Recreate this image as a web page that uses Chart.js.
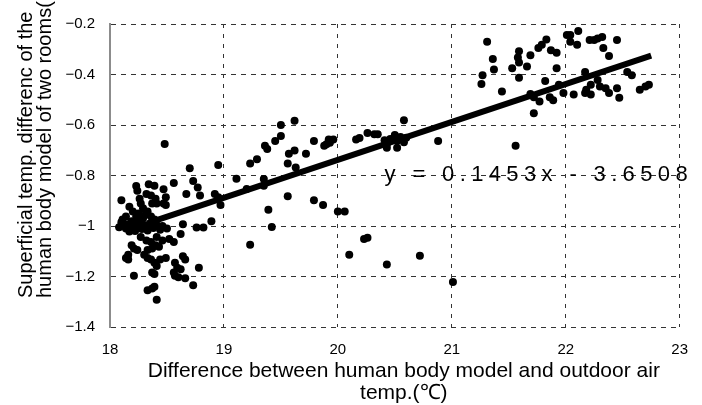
<!DOCTYPE html>
<html><head><meta charset="utf-8">
<script src="https://cdn.jsdelivr.net/npm/chart.js@4/dist/chart.umd.min.js"></script>
<style>html,body{margin:0;padding:0;background:#fff}#wrap{width:702px;height:405px}</style>
</head><body><div id="wrap"><canvas id="c" width="702" height="405"></canvas></div>
<script>
// x: Difference between human body model and outdoor air temp. (°C)
const tempDiff = [
18.23,18.24,18.34,18.39,18.48,18.56,18.70,18.73,18.77,18.79,18.47,18.49,18.67,18.32,18.36,18.40,18.41,18.37,18.47,18.49,
18.26,18.27,18.29,18.10,18.17,18.20,18.23,18.33,18.36,18.39,18.14,18.11,18.16,18.19,
18.12,18.14,18.18,18.21,18.24,18.26,18.28,18.31,18.33,18.35,18.38,18.41,18.44,18.46,18.50,18.22,18.17,18.29,18.31,18.25,18.20,18.10,18.08,
18.64,18.76,18.82,18.27,18.32,18.36,18.41,18.46,18.52,18.56,18.62,18.19,18.21,18.24,18.33,18.37,18.40,18.43,18.16,18.14,18.16,
18.30,18.33,18.36,18.39,18.41,18.44,18.49,18.64,18.66,18.57,18.59,18.62,18.78,18.37,18.39,18.21,18.56,18.57,18.60,18.66,18.73,
18.33,18.37,18.39,18.41,
18.95,18.92,18.95,18.97,18.89,19.11,19.23,19.29,19.36,19.38,19.45,19.50,19.50,19.62,19.56,19.63,19.62,19.57,19.72,19.79,19.88,
19.92,19.96,19.35,19.35,19.20,19.56,19.79,19.87,19.39,19.42,19.23,
19.90,19.93,20.16,20.19,20.26,20.32,20.35,20.58,20.41,20.43,20.46,20.50,20.52,20.55,20.58,20.60,20.52,20.43,20.88,20.00,20.06,
20.23,20.26,20.10,20.43,20.72,21.01,
21.31,21.36,21.37,21.27,21.26,21.44,21.59,21.58,21.59,21.69,21.53,21.66,21.59,21.82,21.76,21.79,21.83,21.87,21.92,21.92,22.01,
21.69,21.72,21.77,21.86,21.89,21.94,21.98,21.72,21.56,22.04,22.11,22.10,22.04,22.21,22.25,22.28,22.32,22.33,22.45,22.38,22.17,
22.54,22.58,22.28,22.30,22.22,22.18,22.17,22.35,22.38,22.45,22.47,22.07,22.22,22.65,22.70,22.73
];
// y: Superficial temp. difference of the human body model of two rooms (°C)
const surfDiff = [
-0.842,-0.860,-0.835,-0.841,-0.675,-0.830,-0.771,-0.822,-0.848,-0.879,-0.854,-0.886,-0.873,-0.873,-0.879,-0.892,-0.911,-0.911,-0.911,-0.917,
-0.892,-0.911,-0.930,-0.898,-0.924,-0.943,-0.962,-0.943,-0.962,-0.974,-0.962,-0.974,-0.993,-0.981,
-1.000,-1.010,-1.005,-0.995,-1.003,-0.985,-1.012,-0.998,-1.018,-0.990,-1.008,-0.996,-1.015,-1.000,-1.010,-1.020,-1.022,-0.970,-0.955,-0.950,-0.985,-0.985,-1.005,
-0.993,-1.006,-1.006,-1.044,-1.057,-1.063,-1.044,-1.057,-1.051,-1.063,-1.032,-1.076,-1.089,-1.095,-1.095,-1.089,-1.076,-1.082,-1.114,-1.127,-1.133,
-1.114,-1.127,-1.133,-1.146,-1.158,-1.133,-1.127,-1.120,-1.133,-1.146,-1.165,-1.171,-1.165,-1.184,-1.190,-1.197,-1.184,-1.197,-1.203,-1.207,-1.235,
-1.254,-1.248,-1.241,-1.292,
-0.758,-0.873,-0.886,-0.917,-0.981,-0.813,-0.752,-0.736,-0.682,-0.695,-0.663,-0.644,-0.600,-0.583,-0.752,-0.768,-0.701,-0.714,-0.714,-0.663,-0.682,
-0.657,-0.657,-0.814,-0.841,-0.853,-0.882,-0.898,-0.917,-0.936,-1.004,-1.074,
-0.676,-0.670,-0.657,-0.651,-0.632,-0.637,-0.637,-0.581,-0.660,-0.675,-0.655,-0.640,-0.662,-0.648,-0.668,-0.650,-0.690,-0.690,-0.663,-0.943,-0.943,
-1.051,-1.047,-1.114,-1.152,-1.118,-1.222,
-0.270,-0.339,-0.380,-0.403,-0.438,-0.467,-0.308,-0.333,-0.352,-0.324,-0.375,-0.368,-0.413,-0.426,-0.295,-0.282,-0.261,-0.304,-0.314,-0.375,-0.244,
-0.477,-0.490,-0.507,-0.490,-0.502,-0.441,-0.473,-0.553,-0.682,-0.244,-0.228,-0.282,-0.270,-0.263,-0.263,-0.257,-0.251,-0.295,-0.263,-0.327,-0.390,
-0.390,-0.403,-0.422,-0.448,-0.441,-0.460,-0.473,-0.454,-0.473,-0.454,-0.492,-0.479,-0.479,-0.460,-0.448,-0.441
];
// linear trend line end points as drawn
const trendX = [18.39, 22.75];
const trendY = [-0.98, -0.325];
const equationText = 'y = 0.1453x - 3.6508';
const xTickValues = [18, 19, 20, 21, 22, 23];
const yTickValues = [-1.4, -1.2, -1.0, -0.8, -0.6, -0.4, -0.2];
const yTickLabels = ['\u22121.4', '\u22121.2', '\u22121', '\u22120.8', '\u22120.6', '\u22120.4', '\u22120.2'];
const xTitleLines = ['Difference between human body model and outdoor air', 'temp.(\u2103)'];
const yTitleLines = ['Superficial temp. differenc of the', 'human body model of two rooms(\u2103)'];

const FONT = '"Liberation Sans", Arial, sans-serif';

const points = tempDiff.map((x, i) => ({ x: x, y: surfDiff[i] }));
const trend = trendX.map((x, i) => ({ x: x, y: trendY[i] }));

function spacedText(ctx, text, x0, x1, y) {
  const chars = Array.from(text);
  let natural = 0;
  chars.forEach(ch => { natural += ctx.measureText(ch).width; });
  const gap = (x1 - x0 - natural) / (chars.length - 1);
  let x = x0;
  chars.forEach(ch => { ctx.fillText(ch, x, y); x += ctx.measureText(ch).width + gap; });
}

const textPlugin = {
  id: 'texts',
  afterDraw(chart) {
    const ctx = chart.ctx;
    const ca = chart.chartArea;
    const xs = chart.scales.x, ys = chart.scales.y;
    ctx.save();
    ctx.fillStyle = '#000';
    // x title
    ctx.font = '21px ' + FONT;
    ctx.textAlign = 'center';
    ctx.textBaseline = 'middle';
    const cx = (ca.left + ca.right) / 2 + 9;
    ctx.fillText(xTitleLines[0], cx, 371);
    ctx.fillText(xTitleLines[1], cx, 393);
    // y title (rotated)
    ctx.font = '20px ' + FONT;
    ctx.save();
    ctx.rotate(-Math.PI / 2);
    ctx.textAlign = 'left';
    ctx.textBaseline = 'middle';
    ctx.fillText(yTitleLines[0], -298, 26);
    ctx.fillText(yTitleLines[1], -298, 45);
    ctx.restore();
    // regression equation
    ctx.font = '22px ' + FONT;
    ctx.textAlign = 'left';
    ctx.textBaseline = 'middle';
    spacedText(ctx, equationText, xs.getPixelForValue(20.41), xs.getPixelForValue(23.07), ys.getPixelForValue(-0.797));
    ctx.restore();
  }
};

new Chart(document.getElementById('c'), {
  type: 'scatter',
  data: {
    datasets: [
      { type: 'line', data: trend, borderColor: '#000', borderWidth: 6, pointRadius: 0, fill: false, order: 0 },
      { type: 'scatter', data: points, backgroundColor: '#000', borderWidth: 0, pointRadius: 4, order: 1 }
    ]
  },
  options: {
    responsive: false,
    animation: false,
    devicePixelRatio: 1,
    layout: { padding: { top: 12, right: 10, left: 0, bottom: 0 } },
    plugins: { legend: { display: false }, tooltip: { enabled: false } },
    scales: {
      x: {
        type: 'linear', min: 18, max: 23,
        afterFit(s) { s.height = 78; },
        afterBuildTicks(s) { s.ticks = xTickValues.map(v => ({ value: v })); },
        ticks: { font: { family: FONT, size: 15 }, color: '#000', padding: 14, maxRotation: 0, callback: v => String(v) },
        grid: { drawTicks: false, lineWidth: 1, color: c => (c.tick && c.tick.value === 18) ? 'rgba(0,0,0,0)' : '#333' },
        border: { display: false, dash: [4, 6] }
      },
      y: {
        type: 'linear', min: -1.4, max: -0.2,
        afterFit(s) { s.width = 110; },
        afterBuildTicks(s) { s.ticks = yTickValues.map(v => ({ value: v })); },
        ticks: { font: { family: FONT, size: 15 }, color: '#000', padding: 15, callback: (v, i) => yTickLabels[i] },
        grid: { drawTicks: false, lineWidth: 1, color: '#333' },
        border: { display: true, color: '#8c8c8c', width: 2, dash: [5, 5] }
      }
    }
  },
  plugins: [textPlugin]
});
</script>
</body></html>
